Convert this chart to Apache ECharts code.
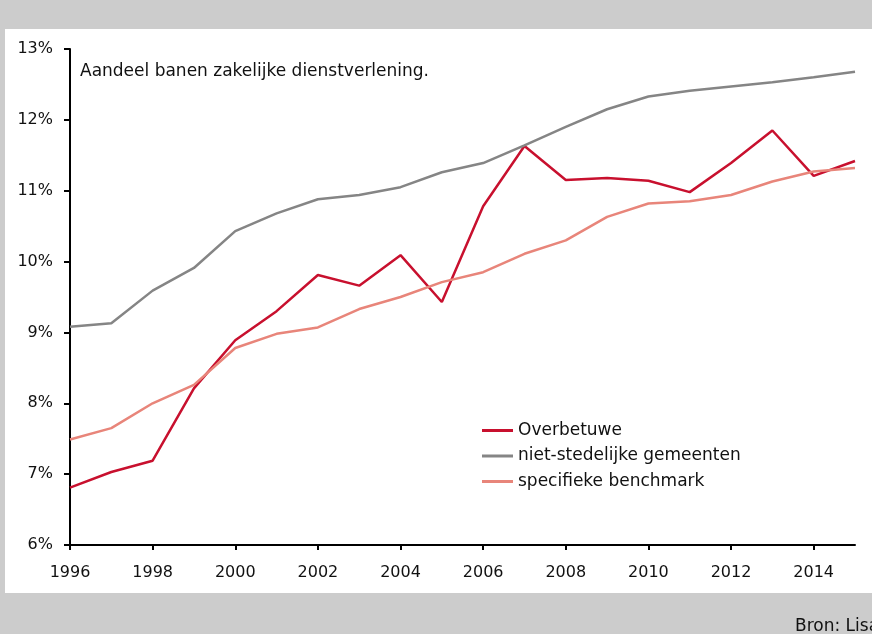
<!DOCTYPE html>
<html>
<head>
<meta charset="utf-8">
<script src="https://cdn.jsdelivr.net/npm/echarts@6/dist/echarts.min.js"></script>
<style>
  html, body { margin: 0; padding: 0; }
  #chart { width: 872px; height: 634px; }
</style>
</head>
<body>
<div id="chart"></div>
<script>
const years = ['1996','1997','1998','1999','2000','2001','2002','2003','2004','2005',
  '2006','2007','2008','2009','2010','2011','2012','2013','2014','2015'];

const overbetuwe = [6.81, 7.03, 7.19, 8.21, 8.89, 9.30, 9.81, 9.66, 10.09, 9.43,
  10.78, 11.63, 11.15, 11.18, 11.14, 10.98, 11.39, 11.85, 11.21, 11.42];
const nietStedelijk = [9.08, 9.13, 9.59, 9.91, 10.43, 10.68, 10.88, 10.94, 11.05, 11.26,
  11.39, 11.64, 11.90, 12.15, 12.33, 12.41, 12.47, 12.53, 12.60, 12.68];
const benchmark = [7.49, 7.65, 8.00, 8.26, 8.78, 8.98, 9.07, 9.33, 9.50, 9.71,
  9.85, 10.11, 10.30, 10.63, 10.82, 10.85, 10.94, 11.13, 11.27, 11.32];

const font = 'DejaVu Sans';

const chart = echarts.init(document.getElementById('chart'));

const line = (name, data, color)=>({
  name: name,
  type: 'line',
  data: data,
  symbol: 'none',
  lineStyle: { color: color, width: 2.5 },
  itemStyle: { color: color },
  animation: false
});

const option = {
  backgroundColor: '#cccccc',
  textStyle: { fontFamily: font },
  graphic: [
    {
      type: 'rect', z: -10, silent: true,
      shape: { x: 5, y: 29, width: 867, height: 564 },
      style: { fill: '#ffffff' }
    },
    {
      type: 'text', left: 80, top: 63,
      style: { text: 'Aandeel banen zakelijke dienstverlening.', font: '17px "DejaVu Sans"', fill: '#111' }
    },
    {
      type: 'text', left: 795, top: 618,
      style: { text: 'Bron: Lisa', font: '17px "DejaVu Sans"', fill: '#111' }
    }
  ],
  grid: { left: 70, top: 49, right: 17, bottom: 89, containLabel: false },
  legend: {
    orient: 'vertical',
    left: 482,
    top: 421,
    padding: 0,
    itemWidth: 31,
    itemHeight: 3,
    itemGap: 6.5,
    icon: 'rect',
    textStyle: { fontSize: 17, color: '#111', fontFamily: font, lineHeight: 19 },
    data: ['Overbetuwe', 'niet-stedelijke gemeenten', 'specifieke benchmark']
  },
  xAxis: {
    type: 'category',
    data: years,
    boundaryGap: false,
    axisLine: { lineStyle: { color: '#000', width: 2 } },
    axisTick: { interval: 1, length: 5, lineStyle: { color: '#000', width: 2 } },
    axisLabel: { interval: 1, margin: 20, fontSize: 16, color: '#111', fontFamily: font },
    splitLine: { show: false }
  },
  yAxis: {
    type: 'value',
    min: 6,
    max: 13,
    interval: 1,
    axisLine: { show: true, lineStyle: { color: '#000', width: 2 } },
    axisTick: { show: true, length: 6, lineStyle: { color: '#000', width: 2 } },
    axisLabel: { margin: 17, fontSize: 16, color: '#111', fontFamily: font, formatter: '{value}%' },
    splitLine: { show: false }
  },
  series: [
    line('Overbetuwe', overbetuwe, '#c8102e'),
    line('niet-stedelijke gemeenten', nietStedelijk, '#858585'),
    line('specifieke benchmark', benchmark, '#e8857a')
  ]
};

chart.setOption(option);
</script>
</body>
</html>
